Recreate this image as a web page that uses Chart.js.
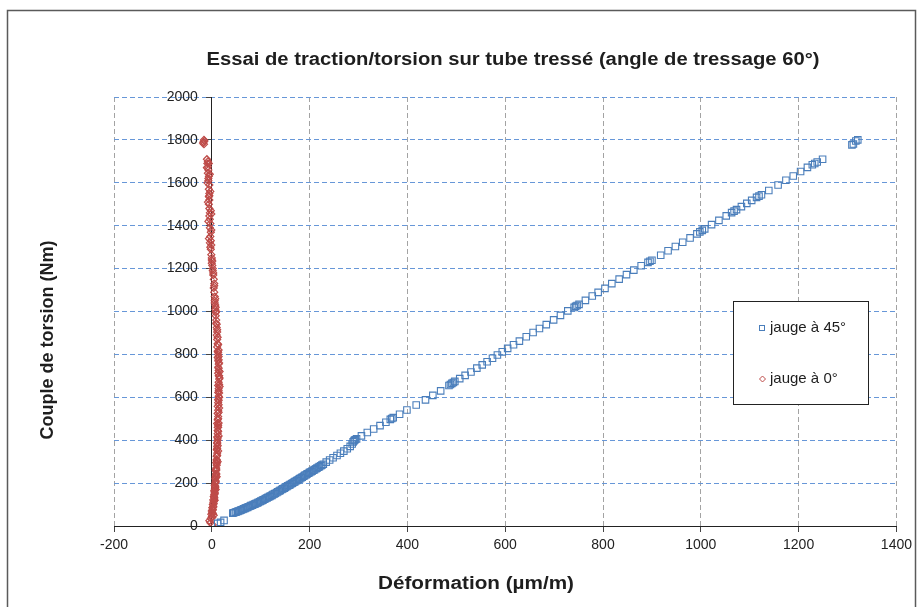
<!DOCTYPE html>
<html>
<head>
<meta charset="utf-8">
<script src="https://cdn.jsdelivr.net/npm/chart.js@4"></script>
<style>
  body { margin: 0; background: #fff; }
  canvas { display: block; }
</style>
</head>
<body>
<canvas id="chart" width="918" height="607"></canvas>
<script>
const titleText = "Essai de traction/torsion sur tube tressé (angle de tressage 60°)";
const xTitle = "Déformation (µm/m)";
const yTitle = "Couple de torsion (Nm)";
const seriesNames = ["jauge à 45°", "jauge à 0°"];

// gauge at 45° : strain (µm/m) / torque (Nm)
const gauge45X = [12, 18, 25,
  43, 48, 53, 58, 63, 68, 73, 78, 83, 88, 93, 98, 103, 108, 113, 118, 123, 128, 133, 138, 143, 148, 153, 158, 163, 168, 173, 178, 183, 188, 193, 198, 203, 208, 213, 218, 223, 228,
  234, 241, 248, 256, 263, 270, 277, 283, 287, 289, 291, 293, 296, 306, 318, 331, 344, 356, 365, 368, 371, 384, 399, 418, 437, 452, 468, 485, 488, 491, 494, 497,
  507, 518, 530, 542, 553, 563, 574, 584, 594, 605, 617, 629, 643, 657, 670, 684, 699, 713, 728, 741, 744, 747, 751, 764, 778, 790, 804, 818, 833, 848, 863, 878,
  892, 896, 900, 918, 933, 948, 963, 978, 992, 998, 1003, 1008, 1022, 1037, 1052, 1063, 1068, 1073, 1083, 1094, 1104, 1114, 1119, 1124, 1139, 1158, 1174, 1189,
  1204, 1218, 1228, 1233, 1238, 1249, 1309, 1312, 1317, 1321,
  45, 50, 55, 60, 65, 70, 75, 80, 85, 90, 95, 100, 105, 110, 115, 120, 125, 130, 135, 140, 145, 150, 155, 160, 165, 170, 175, 180, 185, 190, 195, 200, 205, 210, 215, 220, 225];
const gauge45Y = [12, 17, 26,
  60, 64, 68, 72, 77, 82, 87, 92, 97, 102, 107, 113, 119, 125, 131, 137, 143, 150, 156, 163, 170, 176, 183, 190, 197, 204, 211, 218, 225, 232, 239, 246, 253, 260, 267, 274, 281, 288,
  298, 308, 318, 329, 339, 349, 360, 371, 382, 392, 398, 402, 406, 420, 436, 452, 468, 484, 497, 501, 505, 521, 541, 564, 588, 609, 630, 655, 660, 665, 669, 674,
  687, 702, 718, 736, 751, 766, 782, 797, 812, 828, 845, 862, 882, 902, 921, 939, 961, 982, 1003, 1019, 1024, 1028, 1033, 1052, 1072, 1089, 1108, 1130, 1151, 1172, 1193, 1213,
  1229, 1234, 1239, 1262, 1283, 1303, 1323, 1343, 1362, 1371, 1378, 1385, 1405, 1425, 1446, 1461, 1468, 1475, 1489, 1504, 1518, 1532, 1538, 1544, 1564, 1590, 1612, 1632,
  1653, 1672, 1684, 1690, 1697, 1710, 1777, 1781, 1795, 1800,
  62, 66, 70, 75, 80, 85, 90, 95, 100, 105, 110, 116, 122, 128, 134, 140, 147, 153, 160, 166, 173, 180, 187, 193, 200, 207, 214, 221, 228, 236, 243, 250, 256, 263, 270, 277, 284];

// gauge at 0°
const gauge0X = [2, -3, -5, -2, 0, -1, 1, 0, 2, 1, 3, 2, 3, 4, 3, 5, 4, 5, 6, 5, 6, 7, 6, 7, 8, 7, 8, 9, 8, 9,
  10, 9, 10, 10, 11, 10, 11, 11, 12, 11, 12, 12, 12, 11, 12, 13, 12, 13, 12, 13, 13, 14, 13, 14, 13, 14, 15, 14, 13, 14,
  13, 14, 13, 12, 13, 12, 11, 12, 11, 10, 11, 10, 9, 9, 8, 8, 7, 8, 7, 6, 6, 5, 4, 5, 4, 3, 2, 1, 0, 1,
  0, -1, -2, -1, -2, -3, -2, -4, -3, -4, -5, -4, -5, -6, -5, -6, -5, -6, -5, -7, -6, -8, -7, -8, -9, -8, -10, -16, -17, -16,
  4, 6, 8, 10, 12, 13, 14, 14, 15, 15, 16, 15, 14, 12, 10, 9, 7, 5, 3, 0, -3, -6, -1, -7, -2, -8, -3, -9, -4, -10, -6, -15, -18,
  9, 11, 13, 14, 16, 16, 14, 13, 11, 6, 2, -4, -1, -5, -7,
  1, 2, 2, 3, 4, 4, 5, 6, 6, 7, 8, 8, 9, 9, 10, 10, 11, 11, 12, 12, 13, 13, 13, 14, 14, 15, 14, 15, 15, 14, 14, 13];
const gauge0Y = [5, 15, 25, 35, 45, 55, 62, 70, 78, 85, 92, 100, 108, 115, 122, 130, 138, 146, 155, 163, 172, 180, 190, 200, 210, 220, 232, 245, 258, 270,
  283, 296, 310, 325, 340, 355, 370, 385, 400, 415, 430, 445, 460, 478, 495, 510, 525, 540, 558, 575, 590, 605, 622, 640, 655, 670, 685, 700, 712, 725,
  740, 755, 770, 785, 800, 815, 835, 850, 870, 890, 905, 925, 945, 960, 980, 995, 1010, 1020, 1030, 1050, 1070, 1090, 1110, 1130, 1150, 1170, 1190, 1215, 1225, 1235,
  1240, 1265, 1290, 1310, 1330, 1350, 1370, 1390, 1410, 1430, 1445, 1460, 1480, 1500, 1520, 1535, 1550, 1570, 1590, 1610, 1630, 1645, 1660, 1675, 1690, 1700, 1710, 1780, 1790, 1800,
  50, 120, 170, 230, 300, 350, 420, 480, 550, 620, 690, 760, 820, 880, 940, 1000, 1060, 1120, 1180, 1250, 1300, 1340, 1380, 1420, 1470, 1510, 1560, 1600, 1640, 1670, 1690, 1795, 1785,
  260, 390, 460, 585, 650, 720, 790, 845, 915, 1040, 1200, 1320, 1455, 1540, 1620,
  40, 58, 75, 88, 104, 118, 134, 150, 165, 185, 205, 225, 240, 265, 290, 305, 330, 360, 375, 410, 440, 470, 500, 530, 565, 600, 630, 660, 700, 735, 775, 810];

const toPoints = (xs, ys) => xs.map((x, i) => ({ x: x, y: ys[i] }));

const BLUE = '#4a7ebb';
const RED = '#be4b48';
const FONT = "'Liberation Sans', Arial, sans-serif";

// text squeezed or widened to a given width
function fitText(ctx, text, cx, cy, width) {
  const w = ctx.measureText(text).width;
  ctx.save();
  ctx.translate(cx, cy);
  ctx.scale(width / w, 1);
  ctx.fillText(text, 0, 0);
  ctx.restore();
}

// outer frame, titles and the legend box
const decorations = {
  id: 'decorations',
  afterDraw(chart) {
    const ctx = chart.ctx;
    ctx.save();

    ctx.strokeStyle = '#5a5a5a';
    ctx.lineWidth = 1.5;
    ctx.strokeRect(7.5, 10.5, 908, 620);

    ctx.fillStyle = '#1e1e1e';
    ctx.textAlign = 'center';
    ctx.textBaseline = 'middle';
    ctx.font = 'bold 18px ' + FONT;
    fitText(ctx, titleText, 513, 60, 613);
    fitText(ctx, xTitle, 476, 584, 196);

    ctx.save();
    ctx.translate(48, 340);
    ctx.rotate(-Math.PI / 2);
    ctx.fillText(yTitle, 0, 0);
    ctx.restore();

    // legend
    ctx.fillStyle = '#fff';
    ctx.fillRect(733.5, 301.5, 135, 103);
    ctx.strokeStyle = '#222';
    ctx.lineWidth = 1;
    ctx.strokeRect(733.5, 301.5, 135, 103);

    ctx.strokeStyle = BLUE;
    ctx.strokeRect(759.5, 325.5, 5, 5);
    ctx.strokeStyle = RED;
    ctx.beginPath();
    ctx.moveTo(762.5, 376);
    ctx.lineTo(765.5, 379);
    ctx.lineTo(762.5, 382);
    ctx.lineTo(759.5, 379);
    ctx.closePath();
    ctx.stroke();

    ctx.fillStyle = '#1e1e1e';
    ctx.textAlign = 'left';
    ctx.font = '15px ' + FONT;
    ctx.fillText(seriesNames[0], 770, 328);
    ctx.fillText(seriesNames[1], 770, 379);

    ctx.restore();
  }
};

new Chart(document.getElementById('chart'), {
  type: 'scatter',
  data: {
    datasets: [
      {
        label: seriesNames[0],
        data: toPoints(gauge45X, gauge45Y),
        pointStyle: 'rect',
        pointRadius: 4.6,
        borderColor: BLUE,
        backgroundColor: 'rgba(255,255,255,0)',
        borderWidth: 1.1
      },
      {
        label: seriesNames[1],
        data: toPoints(gauge0X, gauge0Y),
        pointStyle: 'rectRot',
        pointRadius: 3.5,
        borderColor: RED,
        backgroundColor: 'rgba(255,255,255,0)',
        borderWidth: 1.2
      }
    ]
  },
  options: {
    responsive: false,
    animation: false,
    devicePixelRatio: 1,
    layout: { padding: { left: 114, top: 97, right: 17, bottom: 81 } },
    plugins: {
      legend: { display: false },
      title: { display: false },
      tooltip: { enabled: false }
    },
    scales: {
      x: {
        type: 'linear',
        position: { y: 0 },
        min: -200,
        max: 1400,
        ticks: {
          stepSize: 200,
          maxRotation: 0,
          autoSkip: false,
          padding: 6,
          color: '#222',
          font: { family: FONT, size: 14 },
          callback: v => String(v)
        },
        grid: { color: '#a3a3a3', lineWidth: 1, tickColor: '#444', tickLength: 5, tickBorderDash: [] },
        border: { display: true, color: '#222', width: 1, dash: [5, 3] }
      },
      y: {
        type: 'linear',
        position: { x: 0 },
        min: 0,
        max: 2000,
        ticks: {
          stepSize: 200,
          autoSkip: false,
          color: '#222',
          font: { family: FONT, size: 14 },
          // keep the labels clear of the axis line
          callback: v => v + '\u2002\u2002'
        },
        grid: { color: '#6797d8', lineWidth: 1, tickColor: '#444', tickLength: 5, tickBorderDash: [] },
        border: { display: true, color: '#222', width: 1, dash: [5, 3] }
      }
    }
  },
  plugins: [decorations]
});
</script>
</body>
</html>
